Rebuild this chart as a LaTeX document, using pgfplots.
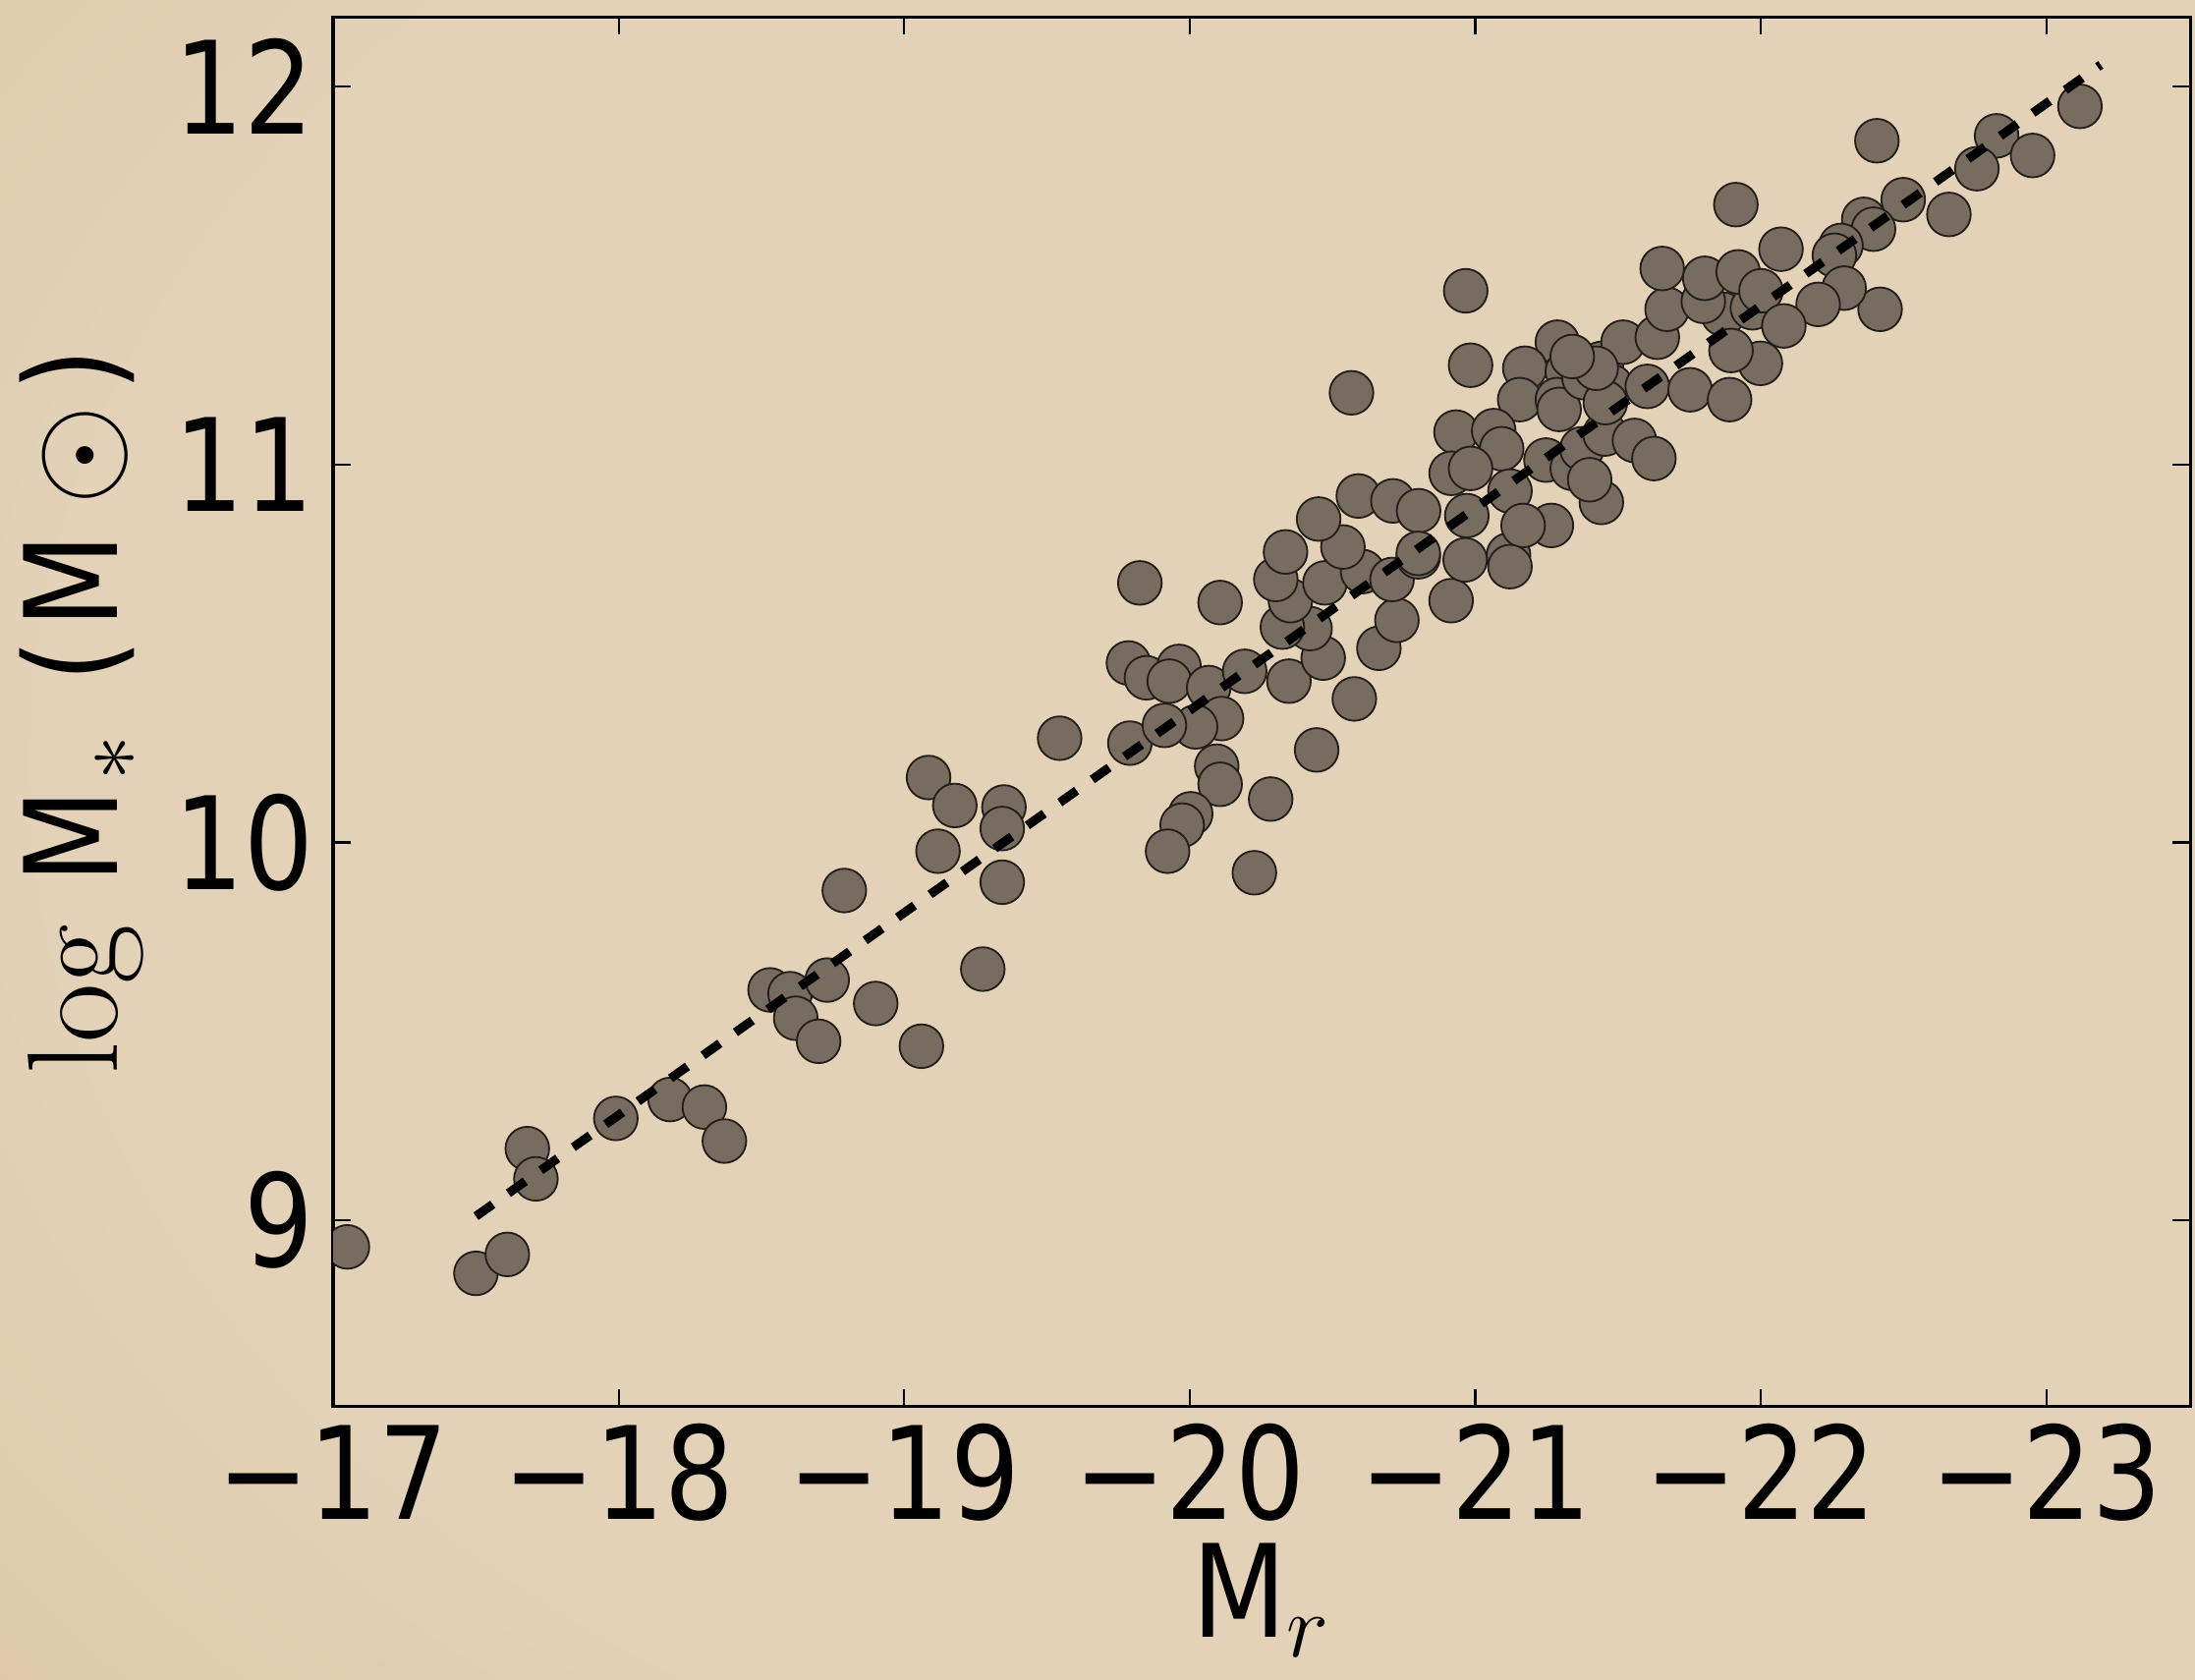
\documentclass[border=0pt]{standalone}
\usepackage{fix-cm}
\usepackage{pgfplots}
\pgfplotsset{compat=1.18}
\usepackage[no-math]{fontspec}
\setmainfont{DejaVu Sans}[FakeStretch=0.85]

\definecolor{paper}{RGB}{227,210,184}
\definecolor{paperedge}{RGB}{214,189,152}
\definecolor{paperdark}{RGB}{192,158,110}
\definecolor{markfill}{RGB}{118,108,96}
\definecolor{markedge}{RGB}{35,30,25}

% parchment vignette behind the whole figure
\pgfdeclareradialshading{vignette}{\pgfpoint{14bp}{4bp}}{%
  color(0bp)=(paper); color(32bp)=(paper); color(54bp)=(paperedge); color(78bp)=(paperdark)}

\newcommand{\figfont}{\fontsize{23}{27}\selectfont}

\begin{document}
\begin{tikzpicture}
\path[use as bounding box] (-59.5pt,-48.75pt) rectangle (332.5pt,251.25pt);
\shade[shading=vignette] (-59.5pt,-48.75pt) rectangle (332.5pt,251.25pt);
\begin{axis}[
  at={(0pt,0pt)}, anchor=south west,
  scale only axis,
  width=331.75pt, height=248.25pt,
  x dir=reverse,
  xmin=-23.505, xmax=-17,
  ymin=8.507, ymax=12.185,
  xtick={-17,-18,-19,-20,-21,-22,-23},
  xticklabels={−17,−18,−19,−20,−21,−22,−23},
  ytick={9,10,11,12},
  yticklabels={9,10,11,12},
  tick align=inside,
  major tick length=3.2pt,
  every tick/.style={black, line width=0.4pt},
  axis line style={black, line width=0.55pt},
  tick label style={font=\figfont},
  xticklabel style={anchor=base, yshift=-20.2pt},
  yticklabel style={anchor=east, inner sep=0pt, xshift=-3.2pt},
  label style={font=\figfont},
  xlabel={M$_r$},
  xlabel style={anchor=base, at={(axis description cs:0.5,-0.1662)}},
  ylabel={$\log$\hspace{7pt}M\hspace{1.5pt}$_*$\hspace{9pt}(\hspace{2pt}M\hspace{5pt}$\odot$\hspace{2.5pt})},
  ylabel style={rotate=0, anchor=base, at={(axis description cs:-0.1160,0.5)}},
  clip marker paths=true,
]
\addplot[only marks, mark=*, mark size=3.9pt,
  mark options={fill=markfill, draw=markedge, line width=0.32pt}]
  table[row sep=\\] {
x y \\
-17.05 8.93 \\
-17.50 8.86 \\
-17.61 8.91 \\
-17.68 9.19 \\
-17.71 9.11 \\
-17.99 9.27 \\
-18.18 9.32 \\
-18.30 9.30 \\
-18.37 9.21 \\
-18.53 9.61 \\
-18.60 9.60 \\
-18.62 9.535 \\
-18.70 9.474 \\
-18.73 9.636 \\
-18.79 9.873 \\
-18.90 9.574 \\
-19.06 9.461 \\
-19.085 10.172 \\
-19.118 9.977 \\
-19.177 10.098 \\
-19.275 9.665 \\
-19.349 10.094 \\
-19.343 10.037 \\
-19.343 9.895 \\
-19.544 10.276 \\
-19.825 10.687 \\
-19.785 10.475 \\
-19.79 10.263 \\
-19.848 10.436 \\
-19.962 10.466 \\
-19.928 10.427 \\
-20.066 10.410 \\
-20.111 10.328 \\
-20.020 10.306 \\
-19.911 10.310 \\
-20.094 10.202 \\
-20.106 10.154 \\
-20.003 10.076 \\
-19.973 10.046 \\
-19.922 9.977 \\
-20.226 9.920 \\
-20.283 10.115 \\
-20.444 10.245 \\
-20.576 10.380 \\
-20.192 10.453 \\
-20.347 10.427 \\
-20.467 10.488 \\
-20.421 10.566 \\
-20.324 10.570 \\
-20.352 10.640 \\
-20.301 10.696 \\
-20.335 10.769 \\
-20.473 10.687 \\
-20.605 10.717 \\
-20.662 10.514 \\
-20.725 10.588 \\
-20.708 10.696 \\
-20.800 10.756 \\
-20.915 10.640 \\
-20.536 10.782 \\
-20.106 10.635 \\
-20.451 10.856 \\
-20.590 10.917 \\
-20.711 10.904 \\
-20.801 10.878 \\
-20.970 10.865 \\
-21.441 10.900 \\
-21.266 10.839 \\
-21.116 10.761 \\
-20.964 10.748 \\
-20.566 11.190 \\
-20.966 11.46 \\
-20.983 11.263 \\
-21.287 11.324 \\
-21.173 11.255 \\
-21.322 11.246 \\
-21.155 11.172 \\
-21.287 11.172 \\
-20.932 11.086 \\
-21.064 11.090 \\
-21.092 11.042 \\
-20.915 10.977 \\
-20.983 10.990 \\
-21.121 10.930 \\
-21.247 11.012 \\
-21.339 10.990 \\
-21.373 11.042 \\
-21.454 11.081 \\
-21.442 11.268 \\
-21.476 11.207 \\
-21.517 11.324 \\
-21.637 11.337 \\
-21.671 11.411 \\
-21.602 11.207 \\
-21.557 11.064 \\
-21.625 11.016 \\
-21.752 11.198 \\
-21.890 11.172 \\
-21.867 11.398 \\
-21.998 11.268 \\
-21.167 10.839 \\
-21.121 10.730 \\
-20.800 10.765 \\
-21.970 11.415 \\
-21.798 11.432 \\
-21.293 11.146 \\
-21.38 11.23 \\
-21.455 11.164 \\
-21.40 10.96 \\
-21.912 11.688 \\
-21.654 11.519 \\
-21.803 11.493 \\
-21.92 11.51 \\
-22.00 11.46 \\
-22.07 11.57 \\
-22.406 11.857 \\
-23.117 11.948 \\
-22.825 11.870 \\
-22.951 11.818 \\
-22.756 11.783 \\
-22.498 11.701 \\
-22.658 11.662 \\
-22.360 11.649 \\
-22.394 11.623 \\
-22.280 11.580 \\
-22.257 11.554 \\
-22.417 11.411 \\
-22.291 11.467 \\
-22.200 11.424 \\
-22.080 11.367 \\
-21.895 11.302 \\
-21.423 11.255 \\
-21.339 11.286 \\
};
% least-squares relation
\addplot[black, line width=1.6pt, dash pattern=on 3.7pt off 3.4pt]
  coordinates {(-17.5,9.011) (-23.19,12.058)};
\end{axis}
\end{tikzpicture}
\end{document}
